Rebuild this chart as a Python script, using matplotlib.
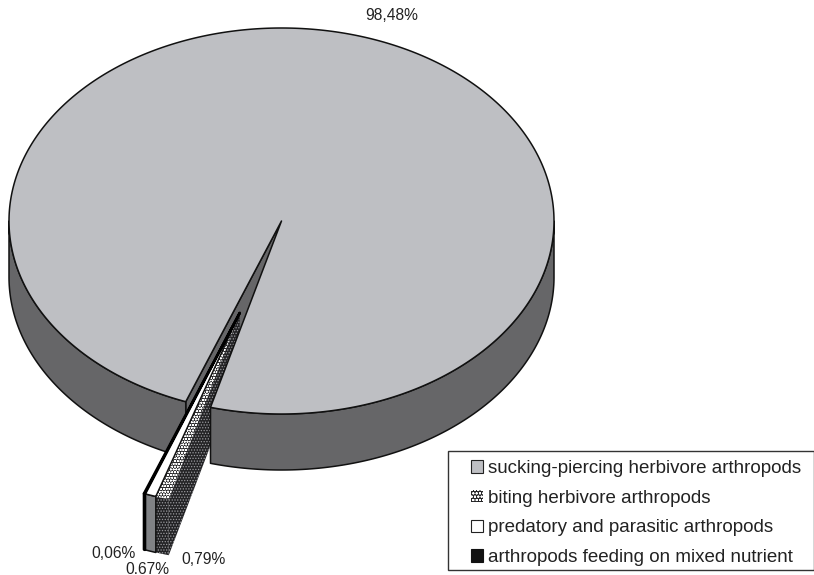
import numpy as np
import matplotlib
matplotlib.use("Agg")
import matplotlib.pyplot as plt
from matplotlib.patches import Polygon, Patch, Rectangle

plt.rcParams["font.family"] = ["Liberation Sans", "DejaVu Sans"]

categories = ["sucking-piercing herbivore arthropods", "biting herbivore arthropods",
              "predatory and parasitic arthropods", "arthropods feeding on mixed nutrient"]
shares = [98.48, 0.79, 0.67, 0.06]
share_labels = ["98,48%", "0,79%", "0.67%", "0,06%"]

# pie geometry in pixels
cx, cy = 281.5, 221
rx, ry = 272.5, 193
depth = 56
start = 105.1
explode = 0.5

TOP = "#bebfc3"
SIDE = "#666668"
EDGE = "#111111"
DARK = "#232325"
DOTS = "#9a9a9e"
TEXT = "#222222"

plt.rcParams["hatch.linewidth"] = 0.6

fig = plt.figure(figsize=(8.14, 5.75), dpi=100)
ax = fig.add_axes([0, 0, 1, 1])
ax.set_xlim(0, 814)
ax.set_ylim(575, 0)
ax.axis("off")


def rim(t0, t1, dx=0, dy=0, n=200):
    t = np.radians(np.linspace(t0, t1, n))
    return np.column_stack([cx + rx * np.cos(t) + dx, cy + ry * np.sin(t) + dy])


def point(t, dx=0, dy=0):
    return rim(t, t, dx, dy, 1)


def poly(pts, fc, ec=EDGE, lw=1.1, hatch=None, z=2):
    p = Polygon(pts, closed=True, facecolor=fc, edgecolor=ec, linewidth=lw, zorder=z, joinstyle="round")
    if hatch:
        p.set_hatch(hatch)
    ax.add_patch(p)
    if hatch:
        # hatch uses the edge colour, so the outline goes on separately
        ax.add_patch(Polygon(pts, closed=True, fill=False, edgecolor=EDGE, linewidth=lw, zorder=z + 0.05))


# slice angles, running clockwise on screen from the start angle
sweeps = np.array(shares) / sum(shares) * 360
small_end = start + sweeps[1:].sum()

# outer wall of the big slice, only the part facing the viewer
for a, b in [(small_end, 180), (0, start)]:
    arc = rim(a, b)
    poly(np.vstack([arc, arc[::-1] + [0, depth]]), SIDE, z=1.8)

# cut face of the big slice, seen through the gap
centre = np.array([[cx, cy]])
end_pt = point(small_end)
poly(np.vstack([centre, end_pt, end_pt + [0, depth], centre + [0, depth]]), SIDE, z=1.2)

# top of the big slice
poly(np.vstack([centre, rim(small_end, start + 360, n=600)]), TOP, z=2)

# the three small slices are pulled out together
mid = np.radians((start + small_end) / 2)
ox, oy = explode * rx * np.cos(mid), explode * ry * np.sin(mid)
apex = np.array([[cx + ox, cy + oy]])
down = np.array([0, depth])

t_bite = start + sweeps[1]
t_pred = t_bite + sweeps[2]
t_mix = t_pred + sweeps[3]

# biting slice: cut face sits behind the big slice, then front and top
corner = point(start, ox, oy)
poly(np.vstack([apex, corner, corner + down, apex + down]), DARK, ec=DOTS, lw=0, hatch="......", z=1.5)
front = rim(start, t_bite, ox, oy, 20)
poly(np.vstack([front, front[::-1] + down]), DARK, ec=DOTS, lw=0, hatch="......", z=3.2)
poly(np.vstack([apex, front]), DARK, ec="white", lw=0, hatch="oooooo", z=3.4)

# predatory slice: front, top
front = rim(t_bite, t_pred, ox, oy, 20)
poly(np.vstack([front, front[::-1] + down]), "#808285", z=3.6)
poly(np.vstack([apex, front]), "white", z=3.8)

# mixed-diet slice is only a sliver
front = rim(t_pred, t_mix, ox, oy, 5)
poly(np.vstack([front, front[::-1] + down]), "black", ec="black", lw=1.9, z=4)
poly(np.vstack([apex, front]), "black", ec="black", lw=1.9, z=4.2)

# value labels
ax.text(391.5, 16, share_labels[0], ha="center", va="center", fontsize=11.25, color=TEXT)
ax.text(203, 560, share_labels[1], ha="center", va="center", fontsize=11.25, color=TEXT)
ax.text(147, 569, share_labels[2], ha="center", va="center", fontsize=11.25, color=TEXT)
ax.text(113, 553, share_labels[3], ha="center", va="center", fontsize=11.25, color=TEXT)

# legend box and entries
ax.add_patch(Rectangle((448, 451), 366, 119, facecolor="white", edgecolor="#333333", linewidth=1, zorder=5))
handles = [Patch(facecolor=TOP, edgecolor="#222222", linewidth=0.8),
           Patch(facecolor=DARK, edgecolor="white", hatch="ooooo", linewidth=0),
           Patch(facecolor="white", edgecolor="#222222", linewidth=0.8),
           Patch(facecolor="#111111", edgecolor="#111111", linewidth=0.8)]
leg = ax.legend(handles, categories, loc="upper left", bbox_to_anchor=(471, 460),
                bbox_transform=ax.transData, ncol=1, fontsize=13.5, frameon=False,
                handlelength=0.66, handleheight=0.66, handletextpad=0.22,
                labelspacing=0.68, borderpad=0, borderaxespad=0, labelcolor=TEXT)
leg.set_zorder(6)

fig.savefig("out.png", dpi=100)
